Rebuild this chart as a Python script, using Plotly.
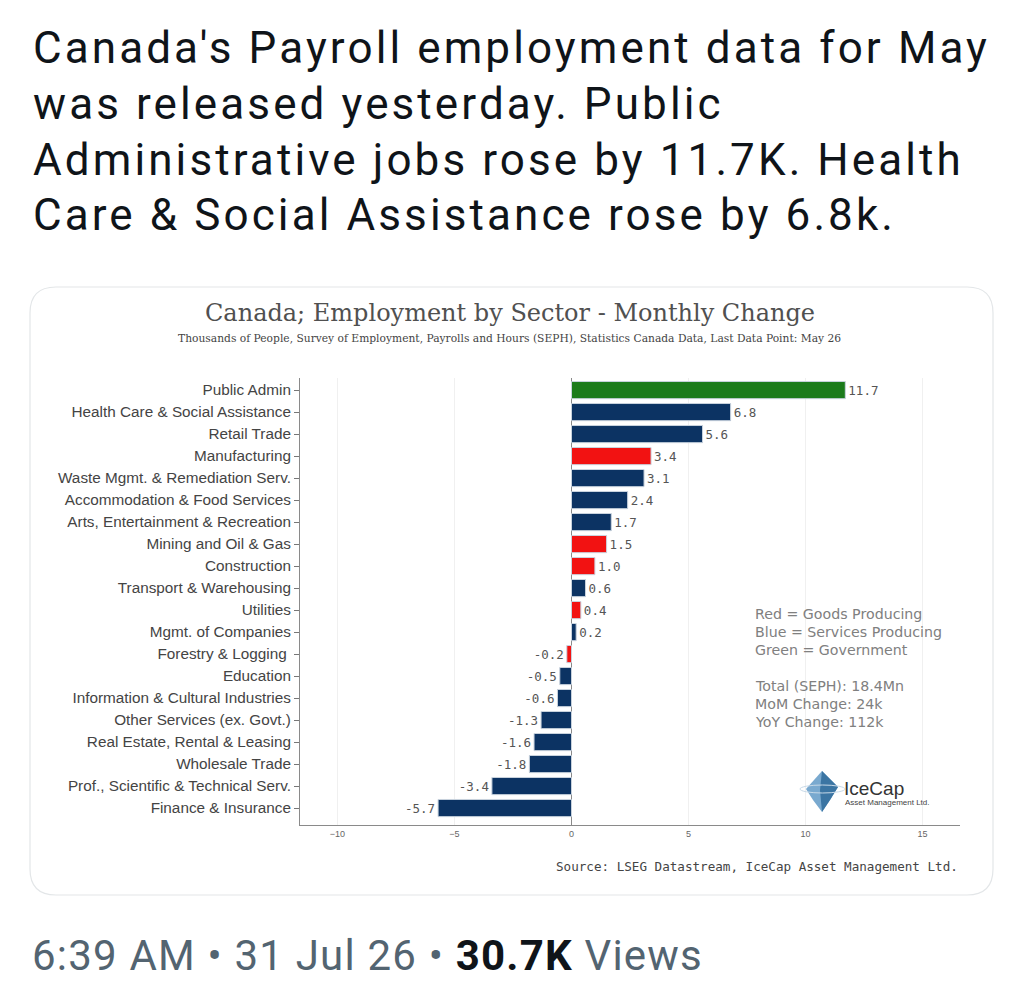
import plotly.graph_objects as go

# ---- data ----
sectors = [
    "Public Admin",
    "Health Care & Social Assistance",
    "Retail Trade",
    "Manufacturing",
    "Waste Mgmt. & Remediation Serv.",
    "Accommodation & Food Services",
    "Arts, Entertainment & Recreation",
    "Mining and Oil & Gas",
    "Construction",
    "Transport & Warehousing",
    "Utilities",
    "Mgmt. of Companies",
    "Forestry & Logging\u00a0",
    "Education",
    "Information & Cultural Industries",
    "Other Services (ex. Govt.)",
    "Real Estate, Rental & Leasing",
    "Wholesale Trade",
    "Prof., Scientific & Technical Serv.",
    "Finance & Insurance",
]
change = [11.7, 6.8, 5.6, 3.4, 3.1, 2.4, 1.7, 1.5, 1.0, 0.6,
          0.4, 0.2, -0.2, -0.5, -0.6, -1.3, -1.6, -1.8, -3.4, -5.7]
group = ["gov", "serv", "serv", "goods", "serv", "serv", "serv", "goods", "goods", "serv",
         "goods", "serv", "goods", "serv", "serv", "serv", "serv", "serv", "serv", "serv"]

x_ticks = [-10, -5, 0, 5, 10, 15]

notes = ["Red = Goods Producing", "Blue = Services Producing", "Green = Government",
         "", "Total (SEPH): 18.4Mn", "MoM Change: 24k", "YoY Change: 112k"]

tweet_lines = [
    "Canada's Payroll employment data for May",
    "was released yesterday. Public",
    "Administrative jobs rose by 11.7K. Health",
    "Care & Social Assistance rose by 6.8k.",
]

group_colors = {"gov": "#1b7b1b", "serv": "#0c3363", "goods": "#f21212"}
bar_colors = [group_colors[g] for g in group]

# plot area in page pixels
W_FIG, H_FIG = 1024, 1004
L, R, T, B = 300, 960, 378, 825


def fx(px):
    return (px - L) / (R - L)


def fy(py):
    return (B - py) / (B - T)


fig = go.Figure()

fig.add_trace(go.Bar(
    y=sectors,
    x=change,
    orientation="h",
    marker=dict(color=bar_colors, line=dict(color="#c9d3de", width=1)),
    text=[f"{v:.1f}" for v in change],
    textposition="outside",
    textfont=dict(family="DejaVu Sans Mono", size=12.5, color="#555555"),
    cliponaxis=False,
    hoverinfo="skip",
))

# rounded card behind the chart
x0, x1, y0, y1, r = 30, 993, 287, 895, 26
card = (
    f"M {fx(x0 + r)},{fy(y0)} L {fx(x1 - r)},{fy(y0)} "
    f"Q {fx(x1)},{fy(y0)} {fx(x1)},{fy(y0 + r)} L {fx(x1)},{fy(y1 - r)} "
    f"Q {fx(x1)},{fy(y1)} {fx(x1 - r)},{fy(y1)} L {fx(x0 + r)},{fy(y1)} "
    f"Q {fx(x0)},{fy(y1)} {fx(x0)},{fy(y1 - r)} L {fx(x0)},{fy(y0 + r)} "
    f"Q {fx(x0)},{fy(y0)} {fx(x0 + r)},{fy(y0)} Z"
)
shapes = [dict(type="path", xref="paper", yref="paper", path=card,
               line=dict(color="#e3e6e8", width=1.2), fillcolor="rgba(0,0,0,0)", layer="below")]

# iceberg logo
berg = (f"M {fx(806)},{fy(789)} L {fx(822)},{fy(771)} L {fx(838)},{fy(787)} "
        f"L {fx(830)},{fy(800)} L {fx(822)},{fy(812)} L {fx(813)},{fy(800)} Z")
berg_dark = (f"M {fx(822)},{fy(771)} L {fx(838)},{fy(787)} L {fx(830)},{fy(800)} "
             f"L {fx(822)},{fy(812)} L {fx(820)},{fy(790)} Z")
shapes.append(dict(type="path", xref="paper", yref="paper", path=berg,
                   line=dict(width=0), fillcolor="#79a9cf"))
shapes.append(dict(type="path", xref="paper", yref="paper", path=berg_dark,
                   line=dict(width=0), fillcolor="#3b75a3"))
shapes.append(dict(type="circle", xref="paper", yref="paper",
                   x0=fx(800), x1=fx(845), y0=fy(785), y1=fy(793),
                   line=dict(color="#c7d9e8", width=1)))

ann = []
for i, line in enumerate(tweet_lines):
    ann.append(dict(text=f"<span style='letter-spacing:3.1px'>{line}</span>",
                    x=fx(31), y=fy(48 + i * 55.8), xanchor="left", yanchor="middle",
                    font=dict(family="Roboto", size=44, color="#0f1419")))

ann.append(dict(text="Canada; Employment by Sector - Monthly Change", x=fx(510), y=fy(313),
                xanchor="center", yanchor="middle",
                font=dict(family="DejaVu Serif", size=24, color="#505050")))
ann.append(dict(text="Thousands of People, Survey of Employment, Payrolls and Hours (SEPH), "
                     "Statistics Canada Data, Last Data Point: May 26",
                x=fx(509), y=fy(338), xanchor="center", yanchor="middle",
                font=dict(family="DejaVu Serif", size=10.7, color="#444444")))

for i, line in enumerate(notes):
    if line:
        ann.append(dict(text=line, x=fx(753), y=fy(614 + i * 18), xanchor="left", yanchor="middle",
                        font=dict(family="DejaVu Sans", size=14.2, color="#808080")))

ann.append(dict(text="IceCap", x=fx(842), y=fy(788), xanchor="left", yanchor="middle",
                font=dict(family="Liberation Sans", size=19, color="#333333")))
ann.append(dict(text="Asset Management Ltd.", x=fx(843), y=fy(802), xanchor="left", yanchor="middle",
                font=dict(family="Liberation Sans", size=8, color="#444444")))

ann.append(dict(text="Source: LSEG Datastream, IceCap Asset Management Ltd.", x=fx(960), y=fy(866),
                xanchor="right", yanchor="middle",
                font=dict(family="DejaVu Sans Mono", size=12.6, color="#444444")))

ann.append(dict(text="<span style='letter-spacing:1.2px'>6:39 AM \u2022 31 Jul 26 \u2022 "
                     "<b><span style='color:#0f1419'>30.7K</span></b> Views</span>",
                x=fx(30), y=fy(955), xanchor="left", yanchor="middle",
                font=dict(family="Roboto", size=42, color="#536471")))

for a in ann:
    a.update(xref="paper", yref="paper", showarrow=False)

fig.update_layout(
    width=W_FIG, height=H_FIG,
    margin=dict(l=L, r=W_FIG - R, t=T, b=H_FIG - B, pad=0),
    paper_bgcolor="white", plot_bgcolor="white",
    showlegend=False,
    bargap=0.22,
    shapes=shapes,
    annotations=ann,
    xaxis=dict(
        range=[-11.6, 16.6], tickvals=x_ticks,
        showgrid=True, gridcolor="#f0f0f0", gridwidth=1,
        zeroline=True, zerolinecolor="#8a8a8a", zerolinewidth=1,
        showline=True, linecolor="#8a8a8a", linewidth=1,
        ticks="", tickfont=dict(family="Liberation Sans", size=9, color="#666666"),
        fixedrange=True,
    ),
    yaxis=dict(
        range=[len(sectors) - 1 + 0.77, -0.55], type="category",
        showgrid=False, showline=True, linecolor="#8a8a8a", linewidth=1,
        ticks="outside", ticklen=5, tickcolor="#777777",
        tickfont=dict(family="Liberation Sans", size=15.3, color="#444444"),
        fixedrange=True,
    ),
)

fig.write_html("out.html", config={"displayModeBar": False},
               post_script="document.body.style.margin='0';")
